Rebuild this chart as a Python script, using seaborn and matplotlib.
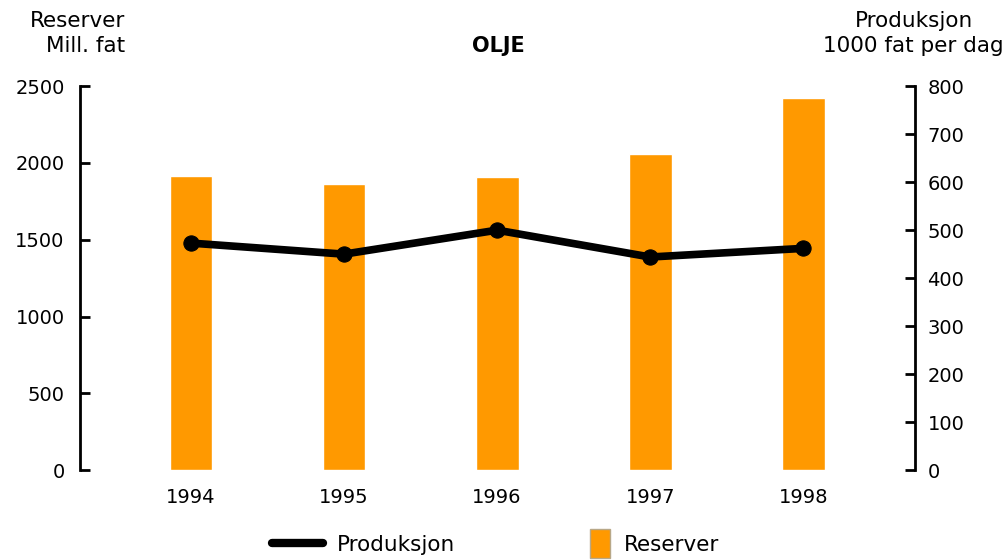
import matplotlib
matplotlib.use("Agg")
import matplotlib.pyplot as plt
import seaborn as sns
import pandas as pd
import numpy as np
from matplotlib.lines import Line2D
from matplotlib.patches import Patch, Rectangle
from matplotlib.legend_handler import HandlerPatch

years = ["1994", "1995", "1996", "1997", "1998"]
reserver = [1914, 1862, 1908, 2057, 2422]
produksjon = [473, 450, 500, 444, 462]

sns.set_theme(style="white")
plt.rcParams['font.family'] = ['DejaVu Sans']
plt.rcParams['text.color'] = 'black'

orange = "#FF9900"
fs = 14
hfs = 15.5

fig = plt.figure(figsize=(10.05, 5.6), dpi=100)
ax = fig.add_axes([0.0796, 0.1607, 0.9104 - 0.0796, 0.846 - 0.1607])

df = pd.DataFrame({"year": years, "reserver": reserver, "produksjon": produksjon, "pos": np.arange(len(years))})
sns.barplot(data=df, x="year", y="reserver", color=orange, saturation=1, width=0.28, ax=ax)
ax.set_ylim(0, 2500)
ax.set_xlim(-0.725, 4.73)
ax.set_yticks([0, 500, 1000, 1500, 2000, 2500])
ax.set_xlabel("")
ax.set_ylabel("")

ax2 = ax.twinx()
sns.lineplot(data=df, x="pos", y="produksjon", color="black", linewidth=5.5, marker="o",
             markersize=11, markeredgecolor="black", ax=ax2)
ax2.set_ylim(0, 800)
ax2.set_yticks(range(0, 801, 100))
ax2.set_xlim(-0.725, 4.73)
ax2.set_xlabel("")
ax2.set_ylabel("")

for a in (ax, ax2):
    for s in ("top", "bottom"):
        a.spines[s].set_visible(False)
    a.spines["left"].set_color("black")
    a.spines["right"].set_color("black")
    a.spines["left"].set_linewidth(2)
    a.spines["right"].set_linewidth(2)
ax.spines["right"].set_visible(False)
ax2.spines["left"].set_visible(False)

ax.tick_params(axis="y", direction="in", length=7, width=2, color="black", labelsize=fs, pad=11, labelcolor="black")
ax2.tick_params(axis="y", direction="in", length=7, width=2, color="black", labelsize=fs, pad=9, labelcolor="black")
ax.tick_params(axis="x", length=0, labelsize=fs, pad=13, labelcolor="black")
ax2.tick_params(axis="x", length=0, bottom=False, labelbottom=False)

fig.text(0.1244, 0.963, "Reserver", fontsize=hfs, ha="right", va="center", color="black")
fig.text(0.1244, 0.917, "Mill. fat", fontsize=hfs, ha="right", va="center", color="black")
fig.text(0.909, 0.963, "Produksjon", fontsize=hfs, ha="center", va="center", color="black")
fig.text(0.909, 0.917, "1000 fat per dag", fontsize=hfs, ha="center", va="center", color="black")
fig.text(0.496, 0.918, "OLJE", fontsize=15, fontweight="bold", ha="center", va="center", color="black")


def narrow_patch(legend, orig_handle, xdescent, ydescent, width, height, fontsize):
    w = 14
    return Rectangle((width - w - xdescent, -ydescent - 5), w, height + 10,
                     facecolor=orig_handle.get_facecolor(), edgecolor=orig_handle.get_edgecolor(),
                     linewidth=1)


handles = [Line2D([0], [0], color="black", linewidth=6),
           Patch(facecolor=orange, edgecolor="#b8a888")]
fig.legend(handles, ["Produksjon", "Reserver"], loc="center", bbox_to_anchor=(0.493, 0.027),
           ncol=2, frameon=False, fontsize=hfs, columnspacing=4.8, handlelength=2.37,
           handletextpad=0.65,
           handler_map={Patch: HandlerPatch(patch_func=narrow_patch)})

fig.savefig("out.png", dpi=100)
